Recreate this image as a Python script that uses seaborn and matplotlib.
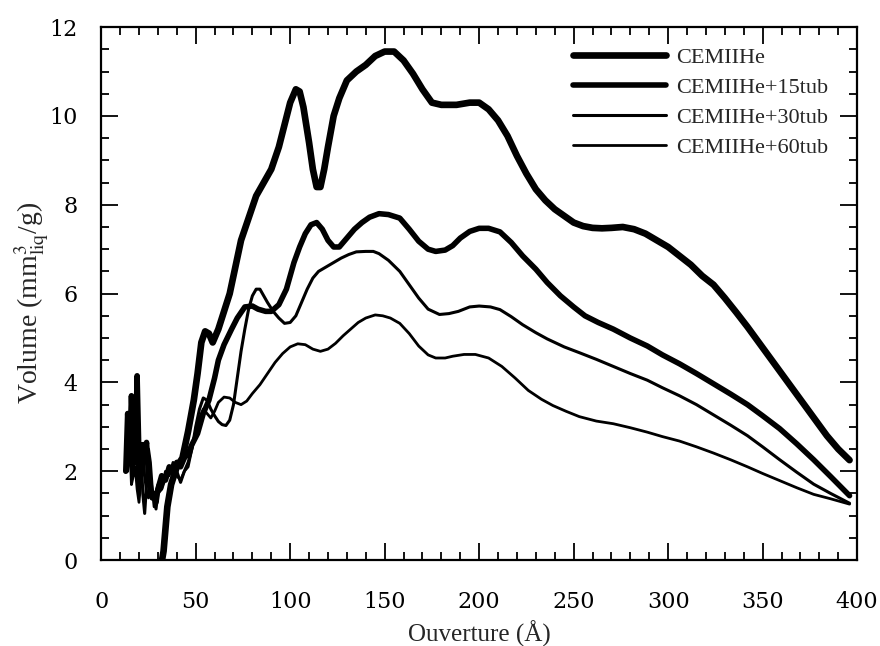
import numpy as np
import pandas as pd
import seaborn as sns
import matplotlib.pyplot as plt
from matplotlib.ticker import MultipleLocator

# data
x_he = [31, 33, 35, 37, 40, 43, 46, 49, 51, 53, 55, 57, 59, 62, 65, 68, 71, 74, 78, 82, 86, 90, 94,
        97, 100, 103, 105, 107, 110, 112, 114, 116, 118, 120, 123, 126, 130, 135, 140, 145, 150, 155,
        160, 165, 170, 175, 180, 188, 195, 200, 205, 210, 215, 220, 225, 230, 235, 240, 245, 250, 255,
        260, 265, 270, 276, 282, 288, 294, 300, 306, 312, 318, 324, 330, 336, 342, 348, 354, 360, 366,
        372, 378, 384, 390, 396]
y_he = [-0.3, 0.2, 1.2, 1.7, 2.1, 2.3, 2.9, 3.6, 4.2, 4.9, 5.15, 5.1, 4.9, 5.2, 5.6, 6.0, 6.6, 7.2, 7.7, 8.2, 8.5, 8.8, 9.3,
        9.8, 10.3, 10.6, 10.55, 10.2, 9.4, 8.8, 8.4, 8.4, 8.8, 9.3, 10.0, 10.4, 10.8, 11.0, 11.15, 11.35, 11.45, 11.45,
        11.25, 10.95, 10.6, 10.3, 10.25, 10.25, 10.3, 10.3, 10.15, 9.9, 9.55, 9.1, 8.7, 8.35, 8.1, 7.9, 7.75, 7.6, 7.52,
        7.48, 7.47, 7.48, 7.5, 7.45, 7.35, 7.2, 7.05, 6.85, 6.65, 6.4, 6.2, 5.9, 5.58, 5.25, 4.9, 4.55, 4.2, 3.85,
        3.5, 3.15, 2.8, 2.5, 2.25]

x_15 = [13, 14, 15, 16, 17, 18, 19, 20, 21, 22, 23, 24, 25, 26, 27, 28, 29, 30, 32, 34, 36, 38, 40, 42, 44,
        46, 48, 51, 54, 57, 60, 62, 65, 69, 72, 76, 80, 83, 87, 90, 94, 98, 102, 105, 108, 111, 114, 117,
        120, 123, 126, 130, 134, 138, 142, 147, 152, 158, 163, 168, 173, 177, 182, 186, 190, 195, 200, 205,
        211, 217, 223, 230, 236, 243, 250, 256, 263, 271, 280, 289, 297, 306, 315, 324, 333, 342, 350, 359,
        368, 377, 386, 396]
y_15 = [2.0, 3.3, 2.3, 3.7, 2.6, 2.2, 4.15, 2.3, 1.9, 2.6, 2.4, 2.65, 1.9, 1.6, 1.4, 1.5, 1.3, 1.6, 1.9, 1.8, 2.1, 2.0, 2.2, 2.1, 2.3,
        2.4, 2.6, 2.85, 3.3, 3.6, 4.1, 4.5, 4.85, 5.2, 5.45, 5.7, 5.72, 5.65, 5.6, 5.6, 5.75, 6.1, 6.7, 7.05, 7.35, 7.55, 7.6, 7.45,
        7.2, 7.05, 7.05, 7.25, 7.45, 7.6, 7.72, 7.8, 7.78, 7.7, 7.45, 7.18, 7.0, 6.95, 6.98, 7.08, 7.25, 7.4, 7.47, 7.47,
        7.39, 7.15, 6.85, 6.55, 6.25, 5.95, 5.7, 5.5, 5.35, 5.2, 5.0, 4.82, 4.62, 4.42, 4.2, 3.97, 3.74, 3.5, 3.25, 2.96,
        2.62, 2.26, 1.88, 1.45]

x_30 = [13, 14, 15, 16, 17, 18, 19, 20, 21, 22, 23, 24, 25, 26, 27, 28, 29, 30, 32, 34, 36, 38, 40, 42, 44,
        46, 48, 50, 52, 54, 56, 58, 60, 62, 64, 66, 68, 70, 72, 74, 76, 78, 80, 82, 84, 86, 88, 91, 94, 97,
        100, 103, 106, 109, 112, 115, 119, 123, 127, 131, 135, 140, 144, 147, 152, 158, 163, 168, 173, 179,
        184, 189, 195, 200, 206, 211, 217, 223, 230, 236, 245, 253, 262, 271, 280, 289, 297, 306, 315, 324,
        333, 342, 350, 359, 368, 377, 386, 396]
y_30 = [2.1, 2.7, 3.0, 2.2, 1.9, 3.5, 2.0, 1.6, 2.6, 1.5, 1.05, 1.7, 2.5, 2.2, 1.6, 1.4, 1.15, 1.5, 1.6, 1.85, 2.1, 1.9, 2.0, 1.75, 2.0,
        2.2, 2.5, 3.0, 3.4, 3.65, 3.6, 3.4, 3.25, 3.12, 3.05, 3.03, 3.15, 3.5, 4.1, 4.7, 5.2, 5.65, 5.95, 6.1, 6.1, 5.95, 5.8, 5.6, 5.45, 5.33,
        5.35, 5.5, 5.8, 6.1, 6.35, 6.5, 6.6, 6.7, 6.8, 6.88, 6.94, 6.95, 6.95, 6.9, 6.75, 6.5, 6.2, 5.9, 5.65, 5.53,
        5.55, 5.6, 5.7, 5.72, 5.7, 5.64, 5.48, 5.3, 5.12, 4.98, 4.8, 4.67, 4.52, 4.36, 4.2, 4.05, 3.88, 3.7, 3.5, 3.27,
        3.04, 2.8, 2.55, 2.26, 1.98, 1.71, 1.5, 1.28]

x_60 = [13, 14, 15, 16, 17, 18, 19, 20, 21, 22, 23, 24, 25, 26, 27, 28, 29, 30, 32, 34, 36, 38, 40, 42, 44,
        46, 48, 50, 52, 54, 56, 58, 60, 62, 65, 68, 71, 74, 77, 80, 84, 88, 92, 96, 100, 104, 108, 112, 116,
        120, 124, 128, 132, 136, 140, 145, 149, 153, 158, 163, 168, 173, 177, 182, 186, 192, 198, 205, 212,
        219, 226, 233, 239, 246, 253, 262, 271, 280, 289, 297, 306, 315, 324, 333, 342, 350, 359, 368, 377,
        386, 396]
y_60 = [2.3, 2.0, 2.8, 1.7, 1.9, 2.1, 1.6, 1.3, 1.8, 2.6, 1.9, 1.5, 1.4, 1.9, 1.6, 1.2, 1.5, 1.7, 1.6, 2.0, 1.9, 2.2, 1.9, 1.8, 2.0,
        2.1, 2.5, 2.9, 3.2, 3.4, 3.3, 3.2, 3.35, 3.55, 3.67, 3.65, 3.55, 3.5, 3.58, 3.75, 3.95, 4.2, 4.45, 4.65, 4.8, 4.87, 4.85, 4.75, 4.7,
        4.75, 4.88, 5.05, 5.2, 5.35, 5.45, 5.52, 5.5, 5.45, 5.33, 5.1, 4.82, 4.62, 4.55, 4.55, 4.59, 4.63, 4.63, 4.55, 4.36,
        4.1, 3.82, 3.62, 3.48, 3.35, 3.23, 3.13, 3.07, 2.98, 2.88, 2.78, 2.68, 2.55, 2.41, 2.26, 2.1, 1.95, 1.79, 1.63, 1.48,
        1.38, 1.26]

names = ["CEMIIHe", "CEMIIHe+15tub", "CEMIIHe+30tub", "CEMIIHe+60tub"]
widths = [4.8, 4.0, 2.2, 2.0]

sns.set_style("ticks")
plt.rcParams['font.family'] = ['Liberation Serif', 'DejaVu Serif']
plt.rcParams['mathtext.fontset'] = 'stix'

fig = plt.figure(figsize=(8.8, 6.46), dpi=100)
ax = fig.add_axes([0.115, 0.133, 0.859, 0.825])

for xs, ys, name, lw in zip([x_he, x_15, x_30, x_60], [y_he, y_15, y_30, y_60], names, widths):
    df = pd.DataFrame({"x": xs, "y": ys})
    sns.lineplot(data=df, x="x", y="y", ax=ax, color="black", linewidth=lw,
                 label=name, estimator=None, sort=False)

ax.set_xlim(0, 400)
ax.set_ylim(0, 12)
ax.xaxis.set_major_locator(MultipleLocator(50))
ax.xaxis.set_minor_locator(MultipleLocator(10))
ax.yaxis.set_major_locator(MultipleLocator(2))
ax.yaxis.set_minor_locator(MultipleLocator(0.5))
ax.tick_params(which="both", direction="in", top=True, right=True, width=1.3, colors="black")
ax.tick_params(which="major", length=12, labelsize=16)
ax.tick_params(which="minor", length=6)
ax.tick_params(axis="x", which="major", pad=22)
ax.tick_params(axis="y", which="major", pad=17)
for lab in ax.get_xticklabels() + ax.get_yticklabels():
    lab.set_family("DejaVu Serif")
for s in ax.spines.values():
    s.set_linewidth(1.6)
    s.set_color("black")

ax.set_xlabel("Ouverture (Å)", fontsize=18, labelpad=6)
ax.set_ylabel(r"Volume (mm$^{3}_{\mathrm{liq}}$/g)", fontsize=20)
ax.yaxis.set_label_coords(-0.066, 0.482)

leg = ax.legend(loc="upper right", bbox_to_anchor=(0.962, 0.962), frameon=False, fontsize=16,
                borderpad=0, borderaxespad=0,
                handlelength=4.2, labelspacing=0.43, handletextpad=0.45)

fig.savefig("out.png", dpi=100)
